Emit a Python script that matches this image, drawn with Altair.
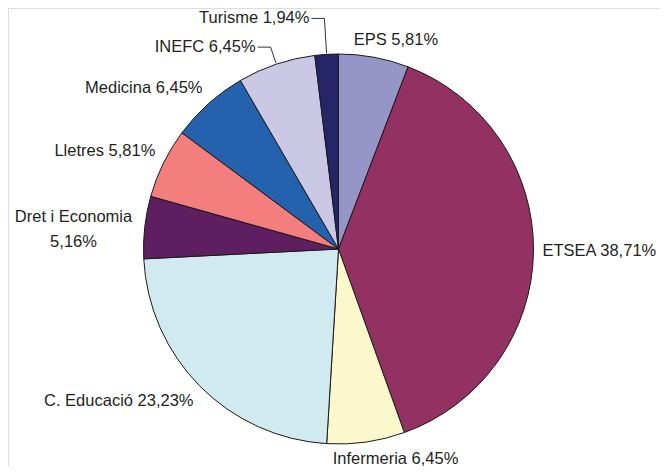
import altair as alt
import pandas as pd

# ---- data ----
categories = ["EPS", "ETSEA", "Infermeria", "C. Educació", "Dret i Economia",
              "Lletres", "Medicina", "INEFC", "Turisme"]
values = [5.81, 38.71, 6.45, 23.23, 5.16, 5.81, 6.45, 6.45, 1.94]
pct_labels = ["5,81%", "38,71%", "6,45%", "23,23%", "5,16%",
              "5,81%", "6,45%", "6,45%", "1,94%"]
colors = ["#9595c8", "#933262", "#fbf8cc", "#d0eaf0", "#5f1e5f",
          "#f47e7e", "#2562ae", "#cbc8e6", "#252567"]
leader_cats = ["INEFC", "Turisme"]
wrapped_cats = ["Dret i Economia"]

# ---- layout constants ----
W, H = 651, 458
CX, CY = 330.5, 241.0   # pie centre in chart coordinates
R = 195                  # pie radius
RL = 204                 # label anchor radius
LEADER_R = {"INEFC": 213, "Turisme": 231}  # leader elbow radius
FONT = "Liberation Sans"
FS = 16.5
CHARW = 8.3
LINEH = 17
TXT = "#231f20"

lead_r_expr = " : ".join(
    [f"datum.cat == '{k}' ? {v}" for k, v in LEADER_R.items()] + ["220"]
)

df = pd.DataFrame({
    "cat": categories,
    "value": values,
    "pct": pct_labels,
    "order": list(range(len(categories))),
})
df["label"] = [c + ("\n" if c in wrapped_cats else " ") + p
               for c, p in zip(categories, pct_labels)]
df["leader"] = df["cat"].isin(leader_cats)

base = alt.Chart(df).transform_window(
    cum="sum(value)", sort=[alt.SortField("order")], frame=[None, 0]
).transform_joinaggregate(
    total="sum(value)"
).transform_calculate(
    t0="2*PI*(datum.cum - datum.value)/datum.total",
    t1="2*PI*datum.cum/datum.total",
).transform_calculate(
    tm="(datum.t0 + datum.t1)/2"
).transform_calculate(
    s="sin(datum.tm)",
    c="cos(datum.tm)",
    nlines="length(split(datum.label, '\\n'))",
    w=f"{CHARW}*length(split(datum.label, '\\n')[0])",
    rl=lead_r_expr,
).transform_calculate(
    px=f"{CX} + {RL}*datum.s",
    py=f"{CY} - {RL}*datum.c",
    u="clamp(1.5*datum.s, -0.5, 0.5)",
    v="clamp(1.5*datum.c, -0.5, 0.5)",
    h=f"{LINEH}*datum.nlines",
    ex=f"{CX} + {R + 1}*datum.s",
    ey=f"{CY} - {R + 1}*datum.c",
    bx=f"{CX} + datum.rl*datum.s",
    by=f"{CY} - datum.rl*datum.c",
).transform_calculate(
    lx="datum.px + datum.w*datum.u",
    ly="datum.py - datum.h*datum.v - (datum.nlines - 1)*4",
    hx="datum.bx + (datum.s < 0 ? -13 : 13)",
).transform_calculate(
    tx="datum.hx + (datum.s < 0 ? -2 : 2)"
)

arcs = base.mark_arc(outerRadius=R, stroke="#1a1a1a", strokeWidth=1).encode(
    theta=alt.Theta("t0:Q", scale=None),
    theta2="t1:Q",
    x=alt.value(CX),
    y=alt.value(CY),
    color=alt.Color("cat:N", scale=alt.Scale(domain=categories, range=colors), legend=None),
)

txt_kw = dict(font=FONT, fontSize=FS, color=TXT, baseline="middle",
              lineBreak="\n", lineHeight=25)

center_txt = base.transform_filter(
    "!datum.leader && (abs(datum.s) < 1/3 || datum.nlines > 1)"
).mark_text(align="center", **txt_kw).encode(
    x=alt.X("lx:Q", scale=None), y=alt.Y("ly:Q", scale=None), text="label:N"
)
left_txt = base.transform_filter(
    "!datum.leader && datum.s >= 1/3 && datum.nlines == 1"
).mark_text(align="left", **txt_kw).encode(
    x=alt.X("px:Q", scale=None), y=alt.Y("ly:Q", scale=None), text="label:N"
)
right_txt = base.transform_filter(
    "!datum.leader && datum.s <= -1/3 && datum.nlines == 1"
).mark_text(align="right", **txt_kw).encode(
    x=alt.X("px:Q", scale=None), y=alt.Y("ly:Q", scale=None), text="label:N"
)

lead = base.transform_filter("datum.leader")
lead1 = lead.mark_rule(color="#333", strokeWidth=1).encode(
    x=alt.X("ex:Q", scale=None), y=alt.Y("ey:Q", scale=None),
    x2="bx:Q", y2="by:Q",
)
lead2 = lead.mark_rule(color="#333", strokeWidth=1).encode(
    x=alt.X("bx:Q", scale=None), y=alt.Y("by:Q", scale=None),
    x2="hx:Q", y2="by:Q",
)
lead_txt = lead.mark_text(align="right", **txt_kw).encode(
    x=alt.X("tx:Q", scale=None), y=alt.Y("by:Q", scale=None), text="label:N"
)

chart = alt.layer(arcs, lead1, lead2, center_txt, left_txt, right_txt, lead_txt).properties(
    width=W, height=H, padding=0, autosize=alt.AutoSizeParams(type="none")
).configure_view(stroke=None).configure(background="white")

chart.save("out.html", embed_options={"renderer": "svg", "actions": False})
